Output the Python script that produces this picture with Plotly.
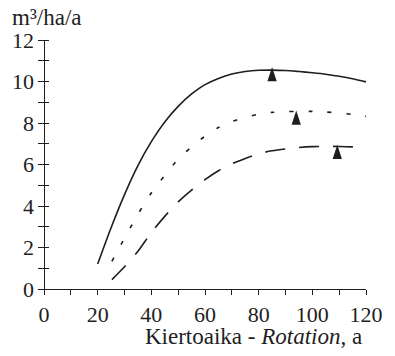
import plotly.graph_objects as go

# Mean annual increment (m3/ha/a) against rotation length (a) for three site classes
age_hi = [20, 25, 30, 35, 40, 45, 50, 55, 60, 65, 70, 75, 80, 85, 90, 95, 100, 105, 110, 115, 120]
mai_hi = [1.2, 2.95, 4.55, 5.95, 7.1, 8.05, 8.8, 9.4, 9.85, 10.15, 10.36, 10.48, 10.54, 10.55, 10.53,
          10.48, 10.42, 10.35, 10.25, 10.13, 9.98]

age_mid = [25.3, 30, 35, 40, 45, 50, 55, 60, 65, 70, 75, 80, 85, 90, 95, 100, 105, 110, 115, 120]
mai_mid = [1.33, 2.45, 3.6, 4.63, 5.48, 6.25, 6.85, 7.36, 7.78, 8.07, 8.27, 8.42, 8.51, 8.55, 8.56,
           8.56, 8.53, 8.48, 8.41, 8.32]

age_lo = [25.3, 30, 35, 40, 45, 50, 55, 60, 65, 70, 75, 80, 85, 90, 95, 100, 105, 110, 115, 120]
mai_lo = [0.45, 1.07, 1.82, 2.72, 3.5, 4.2, 4.77, 5.27, 5.7, 6.03, 6.29, 6.52, 6.66, 6.75, 6.82,
          6.86, 6.87, 6.87, 6.85, 6.8]

# Rotation giving the maximum mean annual increment
opt_age = [85, 94, 109.3]
opt_mai = [10.7, 8.6, 6.95]

x_ticks = [0, 20, 40, 60, 80, 100, 120]
y_ticks = [0, 2, 4, 6, 8, 10, 12]

ink = "#1e1e1e"
serif = "Liberation Serif"
plot_w = 395 - 41 - 19

fig = go.Figure()
fig.add_trace(go.Scatter(x=age_hi, y=mai_hi, mode="lines",
                         line=dict(color=ink, width=1.6, shape="spline", smoothing=0.8)))
fig.add_trace(go.Scatter(x=age_mid, y=mai_mid, mode="lines",
                         line=dict(color=ink, width=1.6, dash="4px,15px", shape="spline", smoothing=0.8)))
fig.add_trace(go.Scatter(x=age_lo, y=mai_lo, mode="lines",
                         line=dict(color=ink, width=1.6, dash="20px,14px", shape="spline", smoothing=0.8)))
fig.add_trace(go.Scatter(x=opt_age, y=opt_mai, mode="markers",
                         marker=dict(symbol="arrow", size=15, color=ink, line=dict(width=0))))

fig.update_layout(
    width=395, height=356,
    margin=dict(l=41, r=19, t=40, b=67),
    paper_bgcolor="white", plot_bgcolor="white",
    showlegend=False,
    font=dict(family=serif, size=22, color=ink),
    # the vertical axis line is the x zero line; y ticks are shifted so they straddle it
    xaxis=dict(range=[0, 120], tickmode="array", tickvals=x_ticks, ticks="outside", ticklen=5,
               tickwidth=1.3, tickcolor=ink,
               minor=dict(dtick=10, tick0=0, ticks="outside", ticklen=5, tickwidth=1.3, tickcolor=ink),
               showline=True, linecolor=ink, linewidth=1.3, showgrid=False,
               zeroline=True, zerolinecolor=ink, zerolinewidth=1.3,
               tickfont=dict(family=serif, size=22)),
    yaxis=dict(range=[0, 12], tickmode="array", tickvals=y_ticks, ticks="outside", ticklen=11,
               tickwidth=1.3, tickcolor=ink, anchor="free", position=5.5 / plot_w,
               minor=dict(dtick=1, tick0=0, ticks="outside", ticklen=11, tickwidth=1.3, tickcolor=ink),
               showline=False, showgrid=False, zeroline=False,
               tickfont=dict(family=serif, size=22)),
    annotations=[
        dict(text="Kiertoaika - <i>Rotation</i>, a", xref="paper", yref="paper", x=0.994, y=0,
             xanchor="right", yanchor="top", yshift=-33, showarrow=False,
             font=dict(family=serif, size=23)),
        dict(text="m³/ha/a", xref="paper", yref="paper", x=0, y=1, xanchor="left", yanchor="bottom",
             xshift=-34, yshift=8, showarrow=False, font=dict(family=serif, size=23)),
    ],
)

fig.write_html("out.html")
